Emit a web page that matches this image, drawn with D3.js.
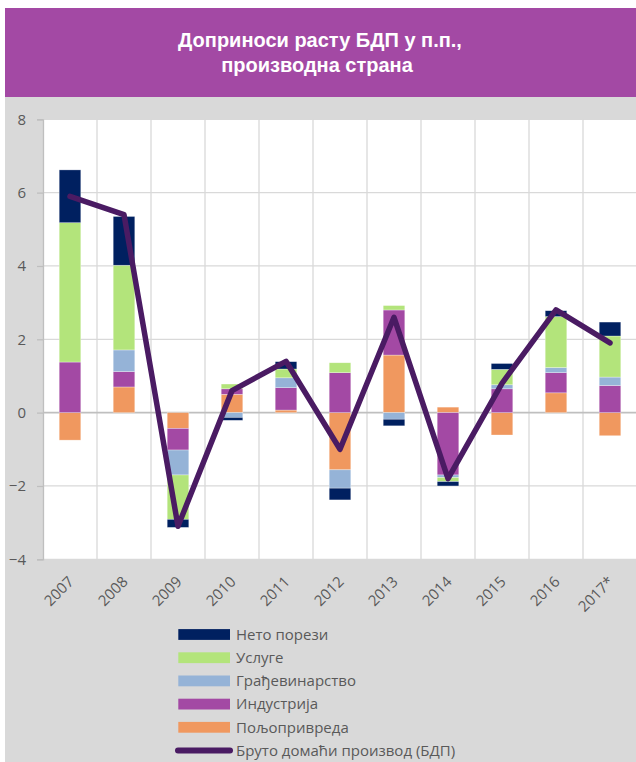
<!DOCTYPE html>
<html>
<head>
<meta charset="utf-8">
<script src="https://cdn.jsdelivr.net/npm/d3@7"></script>
<style>
  html, body { margin: 0; padding: 0; background: #fff; }
  svg { display: block; }
  .tick-label { font-family: "Open Sans", sans-serif; font-size: 15px; fill: #595959; }
  .legend-label { font-family: "Open Sans", sans-serif; font-size: 15px; fill: #595959; }
  .title { font-family: "Liberation Sans", Arial, sans-serif; font-size: 20px; font-weight: bold; fill: #fff; }
</style>
</head>
<body>
<div id="chart"></div>
<script>
const years = ['2007', '2008', '2009', '2010', '2011', '2012', '2013', '2014', '2015', '2016', '2017*'];
const agriculture = [-0.75, 0.70, -0.43, 0.50, 0.07, -1.56, 1.57, 0.15, -0.61, 0.54, -0.63];
const industry = [1.38, 0.42, -0.59, 0.15, 0.61, 1.09, 1.23, -1.70, 0.65, 0.55, 0.74];
const construction = [0.00, 0.59, -0.68, -0.13, 0.27, -0.50, -0.18, -0.07, 0.11, 0.14, 0.23];
const services = [3.80, 2.31, -1.21, 0.13, 0.24, 0.27, 0.12, -0.11, 0.42, 1.39, 1.12];
const netTaxes = [1.44, 1.33, -0.22, -0.08, 0.20, -0.32, -0.18, -0.12, 0.16, 0.16, 0.38];
const gdp = [5.9, 5.4, -3.1, 0.6, 1.4, -1.0, 2.6, -1.8, 0.8, 2.8, 1.9];
const yTicks = [-4, -2, 0, 2, 4, 6, 8];

const seriesKeys = ['agriculture', 'industry', 'construction', 'services', 'netTaxes'];
const seriesNames = {
  netTaxes: 'Нето порези',
  services: 'Услуге',
  construction: 'Грађевинарство',
  industry: 'Индустрија',
  agriculture: 'Пољопривреда'
};
const colors = {
  netTaxes: '#002060',
  services: '#b3e47b',
  construction: '#95b3d7',
  industry: '#a349a4',
  agriculture: '#f0985f'
};
const lineColor = '#4a1b63';

const W = 636, H = 762;
const PLOT = { left: 43, right: 637, top: 119.3, bottom: 559.3 };

const rows = years.map((yr, i) => ({
  year: yr,
  agriculture: agriculture[i],
  industry: industry[i],
  construction: construction[i],
  services: services[i],
  netTaxes: netTaxes[i],
  gdp: gdp[i]
}));

const svg = d3.select('#chart').append('svg')
  .attr('width', W).attr('height', H)
  .attr('viewBox', `0 0 ${W} ${H}`);

// header + background
svg.append('rect').attr('x', 5).attr('y', 97).attr('width', W - 5).attr('height', H - 97).attr('fill', '#d9d9d9');
svg.append('rect').attr('x', 5).attr('y', 8).attr('width', W - 5).attr('height', 89).attr('fill', '#a349a4');
svg.append('text').attr('class', 'title').attr('x', 320).attr('y', 47).attr('text-anchor', 'middle')
  .text('Доприноси расту БДП у п.п.,');
svg.append('text').attr('class', 'title').attr('x', 317).attr('y', 72).attr('text-anchor', 'middle')
  .text('производна страна');

const x = d3.scaleBand().domain(years).range([PLOT.left, PLOT.right]).paddingInner(0.6).paddingOuter(0.3);
const y = d3.scaleLinear().domain([-4, 8]).range([PLOT.bottom, PLOT.top]);
const gap = (x.step() - x.bandwidth()) / 2;

svg.append('rect')
  .attr('x', PLOT.left).attr('y', PLOT.top)
  .attr('width', PLOT.right - PLOT.left).attr('height', PLOT.bottom - PLOT.top)
  .attr('fill', '#fff');

// gridlines
svg.append('g').selectAll('line').data(yTicks.filter(d => d !== 0)).join('line')
  .attr('x1', PLOT.left).attr('x2', PLOT.right)
  .attr('y1', d => y(d)).attr('y2', d => y(d))
  .attr('stroke', '#d9d9d9').attr('stroke-width', 1.3);
svg.append('g').selectAll('line').data(years.slice(1)).join('line')
  .attr('x1', d => x(d) - gap).attr('x2', d => x(d) - gap)
  .attr('y1', PLOT.top).attr('y2', PLOT.bottom)
  .attr('stroke', '#d9d9d9').attr('stroke-width', 1.3);

// y axis
const yAxis = svg.append('g').attr('transform', `translate(${PLOT.left},0)`)
  .call(d3.axisLeft(y).tickValues(yTicks).tickSize(6).tickPadding(11).tickFormat(d3.format('d')));
yAxis.select('.domain').attr('stroke', '#bfbfbf').attr('stroke-width', 1.3);
yAxis.selectAll('.tick line').attr('stroke', '#bfbfbf').attr('stroke-width', 1.3);
yAxis.selectAll('.tick text').attr('class', 'tick-label').attr('fill', null).attr('font-size', null).attr('font-family', null);

// zero line
svg.append('line')
  .attr('x1', PLOT.left).attr('x2', PLOT.right)
  .attr('y1', y(0)).attr('y2', y(0))
  .attr('stroke', '#bfbfbf').attr('stroke-width', 1.6);

// stacked bars
const stack = d3.stack().keys(seriesKeys).offset(d3.stackOffsetDiverging);
const stacked = stack(rows);
svg.append('g').selectAll('g').data(stacked).join('g')
  .attr('fill', d => colors[d.key])
  .selectAll('rect').data(d => d).join('rect')
  .attr('x', d => x(d.data.year))
  .attr('width', x.bandwidth())
  .attr('y', d => y(Math.max(d[0], d[1])))
  .attr('height', d => Math.abs(y(d[0]) - y(d[1])))
  .attr('stroke', 'rgba(255,255,255,0.5)').attr('stroke-width', 0.6);

// GDP line
const line = d3.line()
  .x(d => x(d.year) + x.bandwidth() / 2)
  .y(d => y(d.gdp));
svg.append('path').datum(rows)
  .attr('d', line)
  .attr('fill', 'none')
  .attr('stroke', lineColor)
  .attr('stroke-width', 5.5)
  .attr('stroke-linejoin', 'round')
  .attr('stroke-linecap', 'round');

// x labels
svg.append('g').selectAll('text').data(years).join('text')
  .attr('class', 'tick-label')
  .attr('text-anchor', 'end')
  .attr('dy', '0.35em')
  .attr('transform', d => `translate(${x(d) + x.bandwidth() / 2 + 1},579) rotate(-45)`)
  .text(d => d);

// legend
const legendKeys = ['netTaxes', 'services', 'construction', 'industry', 'agriculture'];
const legendY0 = 634.5, legendStep = 23.2;
const legend = svg.append('g');
legendKeys.forEach((k, i) => {
  const cy = legendY0 + i * legendStep;
  legend.append('rect')
    .attr('x', 178.3).attr('y', cy - 5.4)
    .attr('width', 51.7).attr('height', 10.8)
    .attr('fill', colors[k]);
  legend.append('text').attr('class', 'legend-label')
    .attr('x', 236).attr('y', cy).attr('dy', '0.35em')
    .text(seriesNames[k]);
});
const lineY = legendY0 + 5 * legendStep;
legend.append('line')
  .attr('x1', 178).attr('x2', 230)
  .attr('y1', lineY).attr('y2', lineY)
  .attr('stroke', lineColor).attr('stroke-width', 6).attr('stroke-linecap', 'round');
legend.append('text').attr('class', 'legend-label')
  .attr('x', 236).attr('y', lineY).attr('dy', '0.35em')
  .text('Бруто домаћи производ (БДП)');
</script>
</body>
</html>
